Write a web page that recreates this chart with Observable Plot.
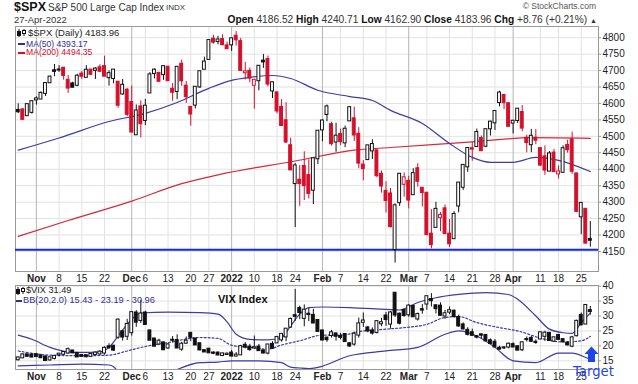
<!DOCTYPE html>
<html><head><meta charset="utf-8">
<script src="https://cdn.jsdelivr.net/npm/d3@7"></script>
<script src="https://cdn.jsdelivr.net/npm/@observablehq/plot@0.6"></script>
<style>
body{margin:0;background:#fff;}
#wrap{position:relative;width:638px;height:384px;overflow:hidden;background:#fff;font-family:"Liberation Sans",Arial,sans-serif;color:#222;}
.t{position:absolute;white-space:nowrap;line-height:1;}
.p{position:absolute;left:0;}
</style></head><body>
<div id="wrap">
  <div id="main" class="p" style="top:0"></div>
  <div id="vix" class="p" style="top:284px"></div>
  <div class="t" style="left:14px;top:1px;font-size:12.5px;font-weight:bold;color:#111">$SPX</div>
  <div class="t" style="left:48px;top:2.7px;font-size:10px;color:#333">S&amp;P 500 Large Cap Index</div>
  <div class="t" style="left:166px;top:4.4px;font-size:8px;color:#333">INDX</div>
  <div class="t" style="left:14px;top:15.4px;font-size:9.5px;color:#333">27-Apr-2022</div>
  <div class="t" style="right:41px;top:15px;font-size:10.2px;color:#333"><b style="color:#111">Open</b> 4186.52 <b style="color:#111">High</b> 4240.71 <b style="color:#111">Low</b> 4162.90 <b style="color:#111">Close</b> 4183.96 <b style="color:#111">Chg</b> +8.76 (+0.21%) <span style="font-size:7px">&#9650;</span></div>
  <div class="t" style="right:42px;top:2.3px;font-size:8.5px;color:#555">&#169; StockCharts.com</div>
  <svg class="t" style="left:17px;top:29px" width="9" height="8"><line x1="2" y1="0" x2="2" y2="8" stroke="#111"/><rect x="0.5" y="2.5" width="3" height="4" fill="#111" stroke="#111"/><line x1="7" y1="0" x2="7" y2="7" stroke="#111"/><rect x="5.5" y="1.5" width="3" height="3" fill="#fff" stroke="#111"/></svg>
  <div class="t" style="left:28px;top:28px;font-size:9.5px;color:#222">$SPX (Daily) 4183.96</div>
  <div class="t" style="left:18px;top:43px;width:7px;height:2px;background:#2e3192"></div>
  <div class="t" style="left:26px;top:39.5px;font-size:8.6px;color:#2e3192">MA(50) 4393.17</div>
  <div class="t" style="left:18px;top:51.5px;width:7px;height:2px;background:#d3102c"></div>
  <div class="t" style="left:26px;top:48.2px;font-size:8.6px;color:#d3102c">MA(200) 4494.35</div>
  <svg class="t" style="left:16px;top:287px" width="9" height="8"><line x1="2" y1="0" x2="2" y2="8" stroke="#111"/><rect x="0.5" y="2.5" width="3" height="4" fill="#111" stroke="#111"/><line x1="7" y1="0" x2="7" y2="7" stroke="#111"/><rect x="5.5" y="1.5" width="3" height="3" fill="#fff" stroke="#111"/></svg>
  <div class="t" style="left:26px;top:286.2px;font-size:9.2px;color:#222">$VIX 31.49</div>
  <div class="t" style="left:16px;top:299.5px;width:6px;height:2px;background:#2e3192"></div>
  <div class="t" style="left:23px;top:296px;font-size:9.2px;color:#2e3192">BB(20,2.0) 15.43 - 23.19 - 30.96</div>
  <div class="t" style="left:218px;top:294.2px;font-size:11px;font-weight:bold;color:#111">VIX Index</div>
  <svg class="t" style="left:584px;top:346px" width="16" height="17"><polygon points="0.5,8 7.5,0.5 14.5,8 11,8 11,16 4,16 4,8" fill="#1f45e8"/></svg>
  <div class="t" style="left:573px;top:364.5px;font-size:13.2px;font-family:'DejaVu Sans',sans-serif;color:#1f45e8">Target</div>
</div>
<script>
const dates = [
"2021-10-26","2021-10-27","2021-10-28","2021-10-29",
"2021-11-01","2021-11-02","2021-11-03","2021-11-04","2021-11-05",
"2021-11-08","2021-11-09","2021-11-10","2021-11-11","2021-11-12",
"2021-11-15","2021-11-16","2021-11-17","2021-11-18","2021-11-19",
"2021-11-22","2021-11-23","2021-11-24","2021-11-26","2021-11-29","2021-11-30",
"2021-12-01","2021-12-02","2021-12-03","2021-12-06","2021-12-07","2021-12-08","2021-12-09","2021-12-10",
"2021-12-13","2021-12-14","2021-12-15","2021-12-16","2021-12-17",
"2021-12-20","2021-12-21","2021-12-22","2021-12-23",
"2021-12-27","2021-12-28","2021-12-29","2021-12-30","2021-12-31",
"2022-01-03","2022-01-04","2022-01-05","2022-01-06","2022-01-07",
"2022-01-10","2022-01-11","2022-01-12","2022-01-13","2022-01-14",
"2022-01-18","2022-01-19","2022-01-20","2022-01-21",
"2022-01-24","2022-01-25","2022-01-26","2022-01-27","2022-01-28","2022-01-31",
"2022-02-01","2022-02-02","2022-02-03","2022-02-04",
"2022-02-07","2022-02-08","2022-02-09","2022-02-10","2022-02-11",
"2022-02-14","2022-02-15","2022-02-16","2022-02-17","2022-02-18",
"2022-02-22","2022-02-23","2022-02-24","2022-02-25","2022-02-28",
"2022-03-01","2022-03-02","2022-03-03","2022-03-04",
"2022-03-07","2022-03-08","2022-03-09","2022-03-10","2022-03-11",
"2022-03-14","2022-03-15","2022-03-16","2022-03-17","2022-03-18",
"2022-03-21","2022-03-22","2022-03-23","2022-03-24","2022-03-25",
"2022-03-28","2022-03-29","2022-03-30","2022-03-31",
"2022-04-01","2022-04-04","2022-04-05","2022-04-06","2022-04-07","2022-04-08",
"2022-04-11","2022-04-12","2022-04-13","2022-04-14",
"2022-04-18","2022-04-19","2022-04-20","2022-04-21","2022-04-22",
"2022-04-25","2022-04-26","2022-04-27"];

const spxPrevClose = 4566.48;
const spxOpen = [4578.69,4580.22,4562.84,4572.87,
4610.62,4613.34,4630.65,4662.93,4699.26,4701.48,4707.25,4670.26,4659.39,4655.24,4689.30,4679.42,4701.50,4700.72,4708.44,4712.00,4678.48,4675.78,4664.63,4628.75,4640.25,
4602.82,4504.73,4589.49,4548.37,4631.97,4690.86,4691.00,4687.64,4710.30,4642.99,4636.46,4719.13,4652.50,4587.90,4594.96,4650.36,4703.96,4733.99,4795.49,4788.64,4794.23,4775.21,
4778.14,4804.51,4787.99,4693.39,4697.66,4655.34,4669.14,4728.59,4733.56,4637.99,4632.24,4588.03,4547.35,4471.38,4356.32,4366.64,4408.43,4380.58,4336.19,4431.79,
4519.57,4566.39,4535.41,4482.79,4505.75,4480.02,4547.00,4553.24,4506.27,4412.61,4429.28,4455.75,4456.06,4384.57,4332.74,4324.93,4155.77,4298.38,4354.17,
4363.14,4322.56,4401.31,4342.12,4327.01,4202.66,4223.10,4252.55,4279.50,4202.75,4188.82,4288.14,4345.11,4407.34,4462.40,4469.10,4493.10,4469.98,4522.91,4541.09,4602.86,4624.20,4599.02,
4540.32,4547.97,4572.45,4494.17,4474.65,4494.15,4462.64,4437.59,4394.30,4449.12,4385.63,4390.63,4472.26,4489.17,4385.83,4255.34,4278.14,4186.52];
const spxHigh = [4598.53,4584.57,4597.55,4608.08,
4620.34,4635.15,4663.46,4683.00,4718.50,4714.92,4708.53,4684.85,4664.55,4688.47,4697.42,4714.95,4701.50,4708.80,4717.75,4743.83,4699.39,4702.87,4664.63,4672.95,4646.02,
4652.94,4595.46,4608.03,4612.60,4694.04,4705.06,4695.26,4713.57,4710.30,4660.47,4712.60,4731.99,4666.70,4587.90,4651.14,4697.67,4740.74,4791.49,4807.02,4804.06,4808.93,4786.83,
4796.64,4818.62,4797.70,4725.01,4707.95,4673.02,4714.13,4748.83,4744.13,4665.13,4632.24,4611.55,4602.11,4494.52,4417.35,4411.01,4453.23,4428.74,4432.72,4516.89,
4550.49,4595.31,4542.88,4539.66,4521.86,4531.32,4590.03,4588.92,4526.33,4426.22,4472.77,4489.55,4456.06,4394.60,4362.12,4341.51,4294.73,4385.34,4388.84,
4378.45,4401.48,4416.78,4342.12,4327.01,4276.94,4299.40,4268.28,4291.01,4247.57,4271.05,4357.86,4412.67,4465.40,4481.75,4522.00,4501.07,4520.58,4546.03,4575.65,4637.30,4627.77,4603.07,
4548.70,4583.50,4593.45,4503.94,4521.16,4520.41,4464.35,4471.00,4453.92,4460.46,4410.31,4471.03,4488.29,4512.94,4385.83,4299.02,4278.14,4240.71];
const spxLow = [4569.17,4551.66,4562.84,4567.59,
4595.06,4613.34,4621.19,4662.59,4681.32,4694.39,4670.87,4630.86,4648.31,4650.77,4672.86,4679.42,4684.41,4672.78,4694.22,4682.17,4652.66,4659.89,4585.43,4625.26,4560.00,
4510.27,4504.73,4495.12,4532.46,4631.97,4674.52,4665.98,4670.24,4667.60,4606.52,4611.22,4651.89,4600.22,4531.10,4583.16,4645.53,4703.96,4733.99,4780.04,4778.08,4775.33,4765.75,
4758.17,4774.27,4699.44,4671.26,4662.74,4582.24,4638.27,4706.71,4650.29,4614.75,4568.70,4530.20,4477.95,4395.34,4222.62,4287.11,4304.80,4309.50,4292.46,4414.02,
4483.53,4544.32,4470.39,4451.50,4471.47,4465.40,4547.00,4484.31,4401.41,4364.84,4429.28,4429.68,4373.81,4327.22,4267.11,4221.51,4114.65,4286.83,4315.12,
4279.54,4322.56,4345.56,4284.98,4199.85,4157.87,4223.10,4209.80,4200.49,4161.72,4187.90,4267.38,4335.65,4390.57,4424.30,4469.10,4455.81,4465.17,4501.07,4517.69,4589.66,4581.32,4530.41,
4507.57,4539.21,4514.17,4450.04,4450.30,4474.60,4408.38,4381.34,4392.70,4390.77,4370.30,4390.63,4448.76,4384.47,4267.62,4200.82,4175.04,4162.90];
const spxClose = [4574.79,4551.68,4596.42,4605.38,
4613.67,4630.65,4660.57,4680.06,4697.53,4701.70,4685.25,4646.71,4649.27,4682.85,4682.80,4700.90,4688.67,4704.54,4697.96,4682.94,4690.70,4701.46,4594.62,4655.27,4567.00,
4513.04,4577.10,4538.43,4591.67,4686.75,4701.21,4667.45,4712.02,4668.97,4634.09,4709.85,4668.67,4620.64,4568.02,4649.23,4696.56,4725.79,4791.19,4786.35,4793.06,4778.73,4766.18,
4796.56,4793.54,4700.58,4696.05,4677.03,4670.29,4713.07,4726.35,4659.03,4662.85,4577.11,4532.76,4482.73,4397.94,4410.13,4356.45,4349.93,4326.51,4431.85,4515.55,
4546.54,4589.38,4477.44,4500.53,4483.87,4521.54,4587.18,4504.08,4418.64,4401.67,4471.07,4475.01,4380.26,4348.87,4304.76,4225.50,4288.70,4384.65,4373.94,
4306.26,4386.54,4363.49,4328.87,4201.09,4170.70,4277.88,4259.52,4204.31,4173.11,4262.45,4357.86,4411.67,4463.12,4461.18,4511.61,4456.24,4520.16,4543.06,4575.52,4631.60,4602.45,4530.41,
4545.86,4582.64,4525.12,4481.15,4500.21,4488.28,4412.53,4397.45,4446.59,4392.59,4391.69,4462.21,4459.45,4393.66,4271.78,4296.12,4175.20,4183.96];

const vixPrevClose = 15.24;
const vixOpen = [15.35,16.0,17.0,16.9,
17.0,16.6,16.3,15.3,15.8,17.0,17.2,17.6,18.3,17.5,16.8,16.7,16.5,17.1,17.3,17.6,19.7,19.9,22.9,24.7,23.2,
24.4,31.0,28.5,31.0,25.0,22.3,20.6,21.0,19.3,21.9,21.8,18.9,20.9,24.2,22.3,20.7,18.4,18.9,17.6,17.6,16.8,17.1,
17.6,16.6,17.0,20.2,19.6,19.3,19.6,18.3,17.6,20.5,21.0,22.0,23.0,26.3,30.1,32.5,29.2,30.6,30.2,28.5,
25.0,22.6,23.5,24.0,23.2,23.8,20.7,20.6,23.6,27.9,26.0,25.0,24.5,27.4,30.0,27.3,37.6,30.6,31.8,
30.4,33.2,29.0,32.1,34.0,35.5,33.4,33.3,30.0,31.3,31.6,29.5,27.0,25.2,24.4,23.1,23.7,23.5,21.7,21.2,19.2,19.3,19.6,
20.4,19.7,18.7,22.1,22.5,21.2,22.3,23.2,24.2,21.6,23.5,22.1,20.9,19.9,23.4,30.2,27.3,31.8];
const vixHigh = [16.2,17.3,17.1,17.5,
17.5,17.2,16.6,16.1,16.6,17.4,18.0,19.3,18.4,17.6,17.1,17.0,17.2,17.9,18.4,19.7,20.7,20.0,28.99,25.0,28.9,
31.4,31.8,35.3,31.6,25.3,22.5,22.2,21.2,20.8,23.1,23.7,21.2,23.0,24.4,22.3,21.0,18.6,19.1,18.0,17.9,17.4,17.6,
18.5,17.8,20.2,21.1,20.5,23.3,20.5,18.6,20.4,21.4,23.2,24.0,25.7,29.3,38.9,33.3,33.7,32.6,32.2,28.6,
25.0,22.9,25.2,24.3,24.2,24.0,21.0,24.6,29.3,31.0,26.5,26.0,28.4,29.2,31.2,31.5,37.8,31.0,32.3,
33.8,33.5,31.0,33.8,36.6,37.5,33.7,34.4,31.9,33.0,32.0,30.3,27.7,26.1,25.6,23.5,24.0,23.6,22.3,22.1,19.9,19.8,20.9,
21.0,20.0,21.3,23.0,23.2,22.0,24.6,24.9,24.5,22.9,23.6,22.4,21.4,23.2,28.6,31.0,33.6,33.2];
const vixLow = [15.0,15.9,16.2,16.1,
16.2,15.8,15.0,14.9,15.3,16.3,16.8,17.2,17.4,16.1,16.3,16.0,16.3,16.9,16.8,16.9,18.9,18.2,22.2,21.6,21.8,
23.3,26.2,27.5,26.9,21.8,19.7,20.2,18.6,18.9,21.0,19.2,18.2,20.5,21.4,20.1,18.4,17.8,17.6,17.1,16.8,16.4,16.9,
16.6,16.3,16.9,19.0,18.2,19.0,18.3,17.3,17.0,19.0,20.9,21.3,21.4,25.8,28.2,28.8,26.4,28.1,27.4,24.7,
21.9,21.2,22.6,21.6,22.0,21.3,19.5,19.9,22.6,26.2,24.4,23.6,24.0,26.4,26.5,25.6,29.5,27.0,29.6,
29.6,29.6,28.3,30.6,31.9,33.0,30.7,30.1,28.9,30.4,29.3,26.2,25.3,23.3,23.3,22.3,22.4,21.6,20.6,19.6,18.6,18.8,19.0,
19.5,18.5,18.1,21.3,21.3,20.5,22.1,21.5,21.8,21.1,22.1,21.2,20.0,19.4,23.0,26.8,27.2,30.3];
const vixClose = [15.98,16.98,16.53,16.26,
16.41,16.03,15.10,16.03,16.48,17.22,17.78,18.73,17.66,16.29,16.49,16.37,17.11,17.59,17.91,19.17,19.38,18.58,28.62,22.96,27.19,
31.12,27.95,30.67,27.18,21.89,19.90,21.58,18.69,20.31,21.89,19.29,20.57,21.57,22.87,20.31,18.63,17.96,17.68,17.54,16.95,17.33,17.22,
16.60,16.91,19.73,19.61,18.76,19.40,18.41,17.62,20.31,19.19,22.79,23.85,25.59,28.85,29.90,31.16,31.96,30.49,27.66,24.83,
21.96,22.09,24.35,23.22,22.86,21.44,19.96,23.91,27.36,28.33,24.99,24.29,28.11,27.75,28.81,31.02,30.32,27.59,30.15,
33.32,29.74,30.48,31.98,36.45,35.13,32.45,30.23,30.75,31.77,29.83,26.67,25.67,23.87,23.53,22.94,23.57,21.67,20.81,19.63,18.90,19.33,20.56,
19.63,18.57,21.03,22.10,21.55,21.16,24.37,24.26,21.82,22.70,22.17,21.37,20.32,22.68,28.21,27.02,33.52,31.49];

// Moving averages at sample dates
const ma50Dates = ["2021-10-26","2021-11-08","2021-11-23","2021-12-06","2021-12-15","2021-12-27","2022-01-03","2022-01-07","2022-01-14","2022-01-21","2022-01-31","2022-02-09","2022-02-16","2022-02-23","2022-03-04","2022-03-14","2022-03-21","2022-03-25","2022-04-01","2022-04-08","2022-04-18","2022-04-27"];
const ma50Values = [4458,4495,4545,4570,4603,4646,4670,4679,4685,4676,4640,4621,4609,4579,4539,4478,4436,4421,4421,4436,4427,4393];
const ma200Dates = ["2021-10-26","2021-11-10","2021-12-01","2021-12-16","2021-12-29","2022-01-24","2022-02-10","2022-02-23","2022-03-21","2022-04-07","2022-04-27"];
const ma200Values = [4196,4244,4303,4356,4383,4425,4458,4466,4483,4496,4494];
const supportLevel = 4155;

// Bollinger bands (20,2) of VIX
const bbUpperDates = ["2021-10-26","2021-10-29","2021-11-04","2021-11-10","2021-11-15","2021-11-19","2021-11-23","2021-11-26","2021-11-30","2021-12-03","2021-12-13","2021-12-22","2021-12-29","2021-12-31","2022-01-04","2022-01-07","2022-01-13","2022-01-19","2022-01-21","2022-01-25","2022-01-27","2022-02-01","2022-02-09","2022-02-22","2022-02-25","2022-03-03","2022-03-09","2022-03-16","2022-03-24","2022-03-31","2022-04-04","2022-04-08","2022-04-13","2022-04-19","2022-04-21","2022-04-25","2022-04-27"];
const bbUpperValues = [23.6,22.2,19.5,18.0,17.8,18.0,19.5,23.3,27.2,31.0,31.3,31.1,30.6,28.0,23.9,22.2,22.0,22.8,26.7,30.6,32.8,33.0,32.8,32.2,32.0,34.5,36.1,37.2,37.8,37.2,35.6,30.0,25.6,24.4,24.2,27.8,30.96];
const bbMidDates = ["2021-10-26","2021-11-04","2021-11-15","2021-11-23","2021-11-30","2021-12-06","2021-12-13","2021-12-22","2021-12-29","2022-01-03","2022-01-07","2022-01-13","2022-01-19","2022-01-25","2022-02-01","2022-02-07","2022-02-14","2022-02-22","2022-02-28","2022-03-07","2022-03-11","2022-03-16","2022-03-22","2022-03-29","2022-04-04","2022-04-12","2022-04-19","2022-04-25","2022-04-27"];
const bbMidValues = [18.3,16.9,16.7,16.9,18.3,19.8,21.1,22.8,22.5,20.2,19.5,18.9,20.3,21.7,23.6,23.6,25.0,25.6,26.1,27.2,29.5,29.8,27.8,26.1,25.0,22.2,21.3,21.7,23.19];
const bbLowerDates = ["2021-10-26","2021-11-04","2021-11-15","2021-11-23","2021-11-24","2021-11-26","2021-11-30","2021-12-06","2021-12-13","2021-12-22","2021-12-29","2022-01-03","2022-01-11","2022-01-19","2022-01-21","2022-01-25","2022-01-27","2022-01-31","2022-02-09","2022-02-22","2022-03-03","2022-03-11","2022-03-16","2022-03-22","2022-03-28","2022-04-01","2022-04-08","2022-04-18","2022-04-21","2022-04-26","2022-04-27"];
const bbLowerValues = [13.3,13.6,13.9,13.6,13.0,11.5,9.4,8.3,10.9,14.4,14.6,15.0,15.0,14.4,12.9,12.6,12.4,12.8,16.7,18.3,19.5,23.9,25.0,23.3,19.5,15.0,14.4,17.6,17.6,16.1,15.43];

const spxTicks = [4150,4200,4250,4300,4350,4400,4450,4500,4550,4600,4650,4700,4750,4800];
const vixTicks = [15,20,25,30,35,40];
const xTickDates = ["2021-11-01","2021-11-08","2021-11-15","2021-11-22","2021-12-01","2021-12-06","2021-12-13","2021-12-20","2021-12-27","2022-01-03","2022-01-10","2022-01-18","2022-01-24","2022-02-01","2022-02-07","2022-02-14","2022-02-22","2022-03-01","2022-03-07","2022-03-14","2022-03-21","2022-03-28","2022-04-01","2022-04-11","2022-04-18","2022-04-25"];
const xTickLabels = ["Nov","8","15","22","Dec","6","13","20","27","2022","10","18","24","Feb","7","14","22","Mar","7","14","21","28","Apr","11","18","25"];
const monthLabels = ["Nov","Dec","2022","Feb","Mar","Apr"];

// ---------- build ----------
const pos = d => dates.indexOf(d);
const RED = "#d3102c", BLK = "#111111";
const spx = dates.map((d,i)=>({i, o:spxOpen[i], h:spxHigh[i], l:spxLow[i], c:spxClose[i], pc: i ? spxClose[i-1] : spxPrevClose}));
const vix = dates.map((d,i)=>({i, o:vixOpen[i], h:vixHigh[i], l:vixLow[i], c:vixClose[i], pc: i ? vixClose[i-1] : vixPrevClose}));
const spxCol = d => d.c >= d.pc ? BLK : RED;
const spxFill = d => d.c > d.o ? "white" : spxCol(d);
const vixFill = d => d.c > d.o ? "white" : BLK;
const series = (ds, vs) => ds.map((d,k)=>({i: pos(d), v: vs[k]}));
const ma50 = series(ma50Dates, ma50Values), ma200 = series(ma200Dates, ma200Values);
const bbU = series(bbUpperDates, bbUpperValues), bbM = series(bbMidDates, bbMidValues), bbL = series(bbLowerDates, bbLowerValues);
const ticks = xTickDates.map((d,k)=>({i: pos(d), label: xTickLabels[k], m: monthLabels.includes(xTickLabels[k])}));
const labelAt = new Map(ticks.map(t=>[t.i, t.label]));
const monthTicks = ticks.filter(t=>t.m).map(t=>t.i), dayTicks = ticks.filter(t=>!t.m).map(t=>t.i);
const xDomain = [-0.6, 127.8];
const font = {fontFamily:"Liberation Sans, Arial, sans-serif", fontSize:"10px", color:"#222", background:"transparent", overflow:"visible"};

const grid = () => [
  Plot.ruleX(ticks, {x:"i", stroke: d => d.m ? "#b5b5b5" : "#e2e2e2"}),
];
const xAxes = () => [
  Plot.axisX(dayTicks, {anchor:"bottom", tickSize:0, tickPadding:3, tickFormat: i => labelAt.get(i), fontSize:10, label:null}),
  Plot.axisX(monthTicks, {anchor:"bottom", tickSize:0, tickPadding:3, tickFormat: i => labelAt.get(i), fontSize:10, fontWeight:"bold", label:null})
];
const candles = (data, col, fill) => [
  Plot.ruleX(data, {x:"i", y1:"l", y2:"h", stroke: col, strokeWidth:1}),
  Plot.rect(data, {x1: d => d.i - 0.32, x2: d => d.i + 0.32, y1:"o", y2:"c", fill, stroke: col, strokeWidth:1, insetTop:-0.5, insetBottom:-0.5})
];

const mainPlot = Plot.plot({
  width:638, height:284, marginTop:26, marginBottom:13, marginLeft:15, marginRight:40,
  style: font,
  x:{domain:xDomain, axis:null},
  y:{domain:[4089,4834], axis:null},
  marks:[
    Plot.ruleY(spxTicks, {stroke:"#e2e2e2"}),
    ...grid(),
    Plot.frame({stroke:"#999"}),
    Plot.ruleY([supportLevel], {stroke:"#1226e6", strokeWidth:2}),
    Plot.line(ma200, {x:"i", y:"v", stroke:"#d42a3a", strokeWidth:1.2, curve:"monotone-x"}),
    Plot.line(ma50, {x:"i", y:"v", stroke:"#3b3da5", strokeWidth:1.2, curve:"monotone-x"}),
    ...candles(spx, spxCol, spxFill),
    Plot.axisY(spxTicks, {anchor:"right", tickSize:2, tickPadding:2, fontSize:10, stroke:"#999", tickFormat: d => String(d), label:null}),
    ...xAxes()
  ]
});
document.getElementById("main").appendChild(mainPlot);

const vixPlot = Plot.plot({
  width:638, height:100, marginTop:1, marginBottom:15, marginLeft:15, marginRight:40,
  style: font,
  x:{domain:xDomain, axis:null},
  y:{domain:[12.1,40.2], axis:null},
  marks:[
    Plot.ruleY(vixTicks, {stroke:"#e2e2e2"}),
    ...grid(),
    Plot.frame({stroke:"#999"}),
    Plot.line(bbU, {x:"i", y:"v", stroke:"#3b3da5", strokeWidth:1.2, curve:"monotone-x", clip:true}),
    Plot.line(bbL, {x:"i", y:"v", stroke:"#3b3da5", strokeWidth:1.2, curve:"monotone-x", clip:true}),
    Plot.line(bbM, {x:"i", y:"v", stroke:"#3b3da5", strokeWidth:1.2, strokeDasharray:"2,2", curve:"monotone-x", clip:true}),
    ...candles(vix, BLK, vixFill),
    Plot.axisY(vixTicks, {anchor:"right", tickSize:2, tickPadding:2, fontSize:10, stroke:"#999", tickFormat: d => String(d), label:null}),
    ...xAxes()
  ]
});
document.getElementById("vix").appendChild(vixPlot);
</script>
</body></html>
